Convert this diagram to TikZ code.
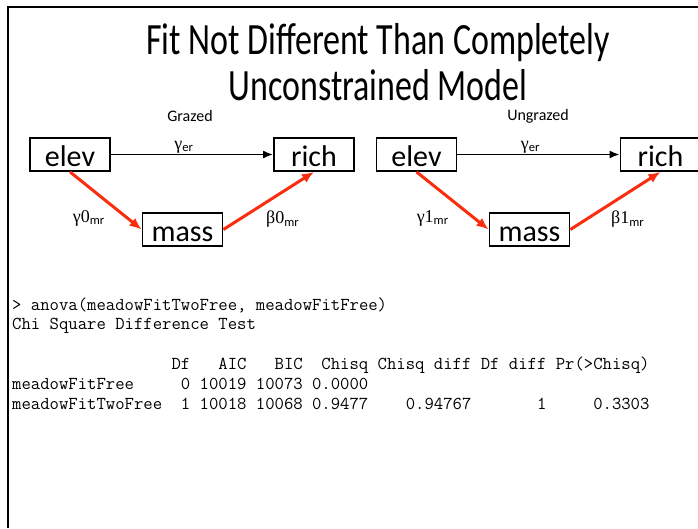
\documentclass[tikz,border=0pt]{standalone}
\usepackage{fontspec}
\setmainfont{Carlito}
\newfontfamily\titlefont[FakeStretch=0.76]{Carlito}
\newfontfamily\greekfont{Liberation Serif}
\usetikzlibrary{arrows.meta}
\definecolor{pathred}{RGB}{250,45,15}
\newcommand{\coef}[2]{{\greekfont #1}\textsubscript{#2}}
\tikzset{
  var/.style={draw, line width=1.8pt, minimum width=80pt, minimum height=33pt,
    inner sep=0pt, text height=24pt, text depth=0pt, font=\fontsize{30}{32}\selectfont},
  direct/.style={-{Latex[length=10pt,width=8pt]}, line width=1.8pt},
  mediated/.style={-{Latex[length=12pt,width=10pt]}, draw=pathred, line width=3pt},
  coeflabel/.style={inner sep=0pt, font=\fontsize{18}{20}\selectfont},
  group/.style={font=\fontsize{16}{18}\selectfont},
  code/.style={anchor=base west, inner sep=0pt, font=\fontsize{18.2}{20}\ttfamily\frenchspacing}
}
\begin{document}
\begin{tikzpicture}[x=1pt, y=-1pt, node distance=244pt]
\useasboundingbox (0,0) rectangle (698,528);
\draw[line width=2pt] (7.5,528) -- (7.5,6.5) -- (698,6.5);

\node(title1) [anchor=base, font=\fontsize{44.7}{50}\titlefont] at (378,54) {Fit Not Different Than Completely};
\node(title2) [anchor=base, font=\fontsize{44.7}{50}\titlefont] at (378,100) {Unconstrained Model};

% grazed
\node(grazed) [group] at (190,116) {Grazed};
\node(elevG) [var] at (70,154.5) {elev};
\node(richG) [var, right of=elevG] {rich};
\node(massG) [var] at (182.5,229.5) {mass};
\draw[direct](elevG) to node [coeflabel, pos=0.45, above=0.5pt] {\coef{γ}{er}}(richG);
\draw[mediated](elevG.south) to node [coeflabel, pos=0.8, left=21pt] {\coef{γ0}{mr}}(massG.west);
\draw[mediated](massG.east) to node [coeflabel, pos=0.18, right=25pt] {\coef{β0}{mr}}(richG.south);

% ungrazed
\node(ungrazed) [group] at (538,116) {Ungrazed};
\node(elevU) [var] at (416.5,154.5) {elev};
\node(richU) [var, right of=elevU] {rich};
\node(massU) [var] at (529.5,229.5) {mass};
\draw[direct](elevU) to node [coeflabel, pos=0.45, above=0.5pt] {\coef{γ}{er}}(richU);
\draw[mediated](elevU.south) to node [coeflabel, pos=0.8, left=24pt] {\coef{γ1}{mr}}(massU.west);
\draw[mediated](massU.east) to node [coeflabel, pos=0.18, right=23pt] {\coef{β1}{mr}}(richU.south);

% R output
\node(cmd) [code] at (12,310) {>~anova(meadowFitTwoFree,~meadowFitFree)};
\node(test) [code] at (12,329.8) {Chi~Square~Difference~Test};
\node(header) [code] at (12,369.4) {~~~~~~~~~~~~~~~~~Df~~~AIC~~~BIC~~Chisq~Chisq~diff~Df~diff~Pr(>Chisq)};
\node(rowfree) [code] at (12,389.2) {meadowFitFree~~~~~0~10019~10073~0.0000};
\node(rowtwo) [code] at (12,409) {meadowFitTwoFree~~1~10018~10068~0.9477~~~~0.94767~~~~~~~1~~~~~0.3303};
\end{tikzpicture}
\end{document}
